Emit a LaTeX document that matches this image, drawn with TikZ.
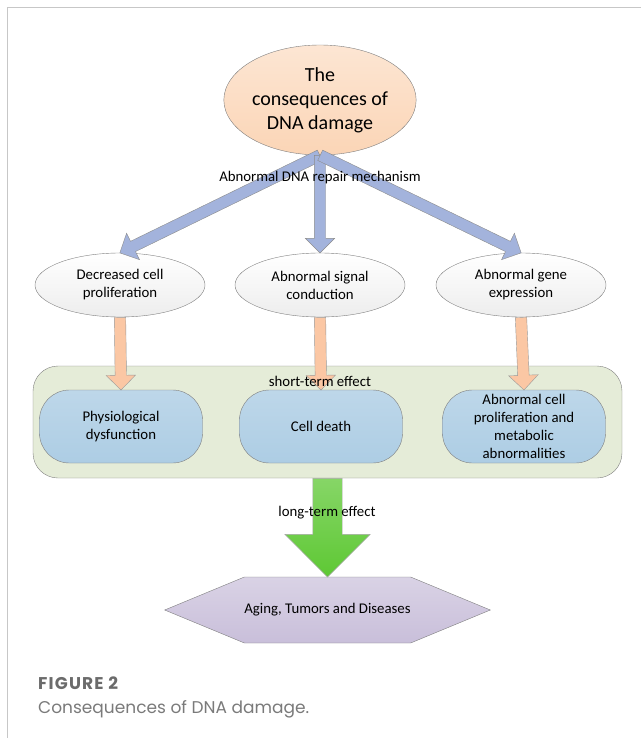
\documentclass[tikz,border=0pt]{standalone}
\usepackage{fontspec}
\setmainfont{Carlito}
\newfontfamily\capfont{Poppins}
\usetikzlibrary{calc,shapes.geometric,shapes.arrows,shapes.symbols}

\definecolor{peach}{HTML}{FBD5B6}
\definecolor{lineg}{HTML}{7F7F7F}
\definecolor{arrblue}{HTML}{A3B3DC}
\definecolor{arrorange}{HTML}{FBC7A4}
\definecolor{boxgreen}{HTML}{E5ECD8}
\definecolor{capblue}{HTML}{ADCDE4}
\definecolor{arrgreen}{HTML}{5EC834}
\definecolor{hexviolet}{HTML}{C9BFDA}

% block arrow laid along the line between two nodes
\newcommand\blockarrow[3]{%
  \path let \p1=($(#3)-(#2)$), \n1={veclen(\x1,\y1)} in
    (#2) -- node[pos=0, sloped, allow upside down, single arrow, anchor=tail, inner xsep=0pt,
      #1, minimum height=\n1] {} (#3);}

\begin{document}
\begin{tikzpicture}[x=1pt, y=-1pt,
    every node/.style={font=\fontsize{14.8}{18}\selectfont, align=center},
    topell/.style={ellipse, draw=lineg, top color=peach!60, bottom color=peach, inner sep=0pt,
      minimum width=190pt, minimum height=110pt, font=\fontsize{20}{24}\selectfont},
    cause/.style={ellipse, draw=lineg, top color=white, bottom color=black!7, inner sep=0pt,
      minimum width=170pt, minimum height=64pt},
    effect/.style={rectangle, rounded corners=30pt, draw=lineg, top color=capblue!80, bottom color=capblue,
      minimum width=163pt, minimum height=73pt, inner sep=2pt},
    bluearr/.style={draw=black!45, fill=arrblue, inner ysep=5.5pt, single arrow head extend=9pt},
    orangearr/.style={draw=black!40, fill=arrorange, inner ysep=5.5pt, single arrow head extend=9pt},
    greenarr/.style={draw=black!35, top color=arrgreen!75, bottom color=arrgreen, shading angle=0,
      inner ysep=14.5pt, single arrow head extend=28pt}]

  % frame of the figure
  \useasboundingbox (0,0) rectangle (641,738);
  \draw[line width=1pt, black!22] (7.5,738) -- (7.5,7.5) -- (641,7.5);

  % Define nodes
  \node[rectangle, rounded corners=25pt, draw=black!50, fill=boxgreen,
    minimum width=589pt, minimum height=112pt] (short) at (327.5,422) {};
  \node[topell] (dna) at (320,100) {The\\consequences of\\DNA damage};
  \node[cause] (dcp) at (120,285) {Decreased cell\\proliferation};
  \node[cause] (asc) at (320,285) {Abnormal signal\\conduction};
  \node[cause] (age) at (521,285) {Abnormal gene\\expression};
  \node[effect] (pd) at (121,426.5) {Physiological\\dysfunction};
  \node[effect] (cd) at (321,426.5) {Cell death};
  \node[effect] (acp) at (524,426.5) {Abnormal cell\\proliferation and\\metabolic\\abnormalities};
  \node[signal, signal to=east and west, signal pointer angle=45, draw=lineg,
    top color=hexviolet!70, bottom color=hexviolet, minimum width=325pt, minimum height=66pt,
    inner sep=0pt] (aging) at (327.5,610) {Aging, Tumors and Diseases};

  % Connect nodes with block arrows
  \blockarrow{bluearr}{dna.south}{dcp.north}
  \blockarrow{bluearr}{dna.south}{asc.north}
  \blockarrow{bluearr}{dna.south}{age.north}
  \blockarrow{orangearr}{dcp.south}{pd.north}
  \blockarrow{orangearr}{asc.south}{cd.north}
  \blockarrow{orangearr}{age.south}{acp.north}
  \blockarrow{greenarr}{short.south}{aging.north}

  % labels on the arrows
  \node (repair) at (320,178) {Abnormal DNA repair mechanism};
  \node (shortlbl) at (320,381) {short-term effect};
  \node (longlbl) at (327,513) {long-term effect};

  % caption
  \node[anchor=base west, inner sep=0pt, font=\capfont\bfseries\fontsize{17}{19}\selectfont\addfontfeature{LetterSpace=7},
    text=black!58] (fig) at (38,689) {FIGURE 2};
  \node[anchor=base west, inner sep=0pt, font=\capfont\fontsize{17}{19}\selectfont, text=black!52]
    (cap) at (38,713) {Consequences of DNA damage.};
\end{tikzpicture}
\end{document}
